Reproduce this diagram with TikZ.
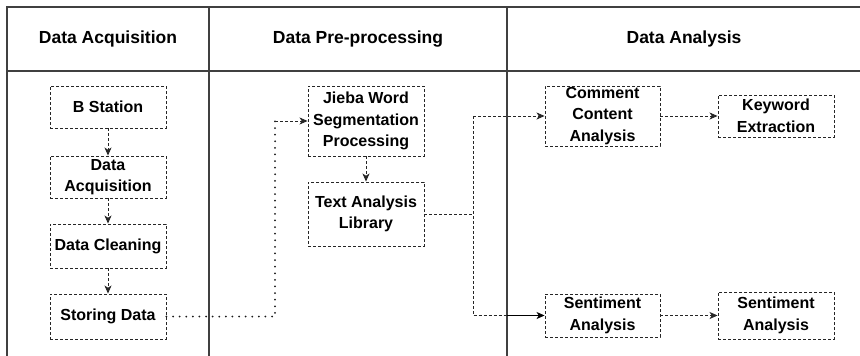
\documentclass[tikz,border=0pt]{standalone}
\usepackage{fontspec}
\setmainfont{Liberation Sans}
\usetikzlibrary{arrows.meta}
\begin{document}
\begin{tikzpicture}[x=1pt,y=-1pt,
  grid/.style={draw=black!75,line width=1.3pt},
  hdr/.style={font=\fontsize{17.5}{21}\selectfont\bfseries},
  box/.style={draw=black!85,line width=0.9pt,dash pattern=on 3pt off 2pt,
    inner sep=0pt,align=center,font=\fontsize{16}{21.5}\selectfont\bfseries,text=black},
  link/.style={draw=black!85,line width=0.9pt,dash pattern=on 3pt off 2pt},
  dots/.style={draw=black!90,line width=2pt,line cap=round,dash pattern=on 0pt off 6.6pt},
  tip/.style={-{Stealth[length=8pt,width=7pt,inset=2.2pt]}}
]
\useasboundingbox (0,0) rectangle (860,356);
\fill[white] (0,0) rectangle (860,356);
% table
\draw[grid] (7,356) -- (7,7) -- (860,7);
\draw[grid] (7,71) -- (860,71);
\draw[grid] (209,7) -- (209,356);
\draw[grid] (507,7) -- (507,356);
\node[hdr] (h1) at (108,39) {Data Acquisition};
\node[hdr] (h2) at (358,39) {Data Pre-processing};
\node[hdr] (h3) at (684,39) {Data Analysis};
% nodes
\node[box,minimum width=116pt,minimum height=42pt] (bs) at (108,107) {B Station};
\node[box,minimum width=116pt,minimum height=42pt] (da) at (108,177) {Data\\Acquisition};
\node[box,minimum width=116pt,minimum height=44pt] (dc) at (108,246) {Data Cleaning};
\node[box,minimum width=116pt,minimum height=45pt] (sd) at (108,316.5) {Storing Data};
\node[box,minimum width=116pt,minimum height=70pt] (jb) at (366,121) {Jieba Word\\Segmentation\\Processing};
\node[box,minimum width=116pt,minimum height=64pt] (ta) at (366,214) {Text Analysis\\Library};
\node[box,minimum width=115pt,minimum height=60pt] (ca) at (602.5,116) {Comment\\Content\\Analysis};
\node[box,minimum width=116pt,minimum height=42pt] (ke) at (776,116) {Keyword\\Extraction};
\node[box,minimum width=115pt,minimum height=43pt] (s1) at (602.5,315.5) {Sentiment\\Analysis};
\node[box,minimum width=116pt,minimum height=47pt] (s2) at (776,315.5) {Sentiment\\Analysis};
% connectors
\draw[link,tip] (bs) -- (da);
\draw[link,tip] (da) -- (dc);
\draw[link,tip] (dc) -- (sd);
\coordinate (c1) at (275,121);
\coordinate (c2) at (275,316.5);
\draw[dots] (sd.east) -- (c2) -- (c1);
\draw[link,tip] (c1) -- (jb.west);
\draw[link,tip] (jb) -- (ta);
\coordinate (j0) at (473,214);
\coordinate (j1) at (473,116);
\coordinate (j2) at (473,315.5);
\coordinate (j3) at (507,315.5);
\draw[link] (ta.east) -- (j0);
\draw[link] (j1) -- (j2) -- (j3);
\draw[link,tip] (j1) -- (ca.west);
\draw[draw=black,line width=0.9pt,tip] (j3) -- (s1.west);
\draw[link,tip] (ca) -- (ke);
\draw[link,tip] (s1) -- (s2);
\end{tikzpicture}
\end{document}
